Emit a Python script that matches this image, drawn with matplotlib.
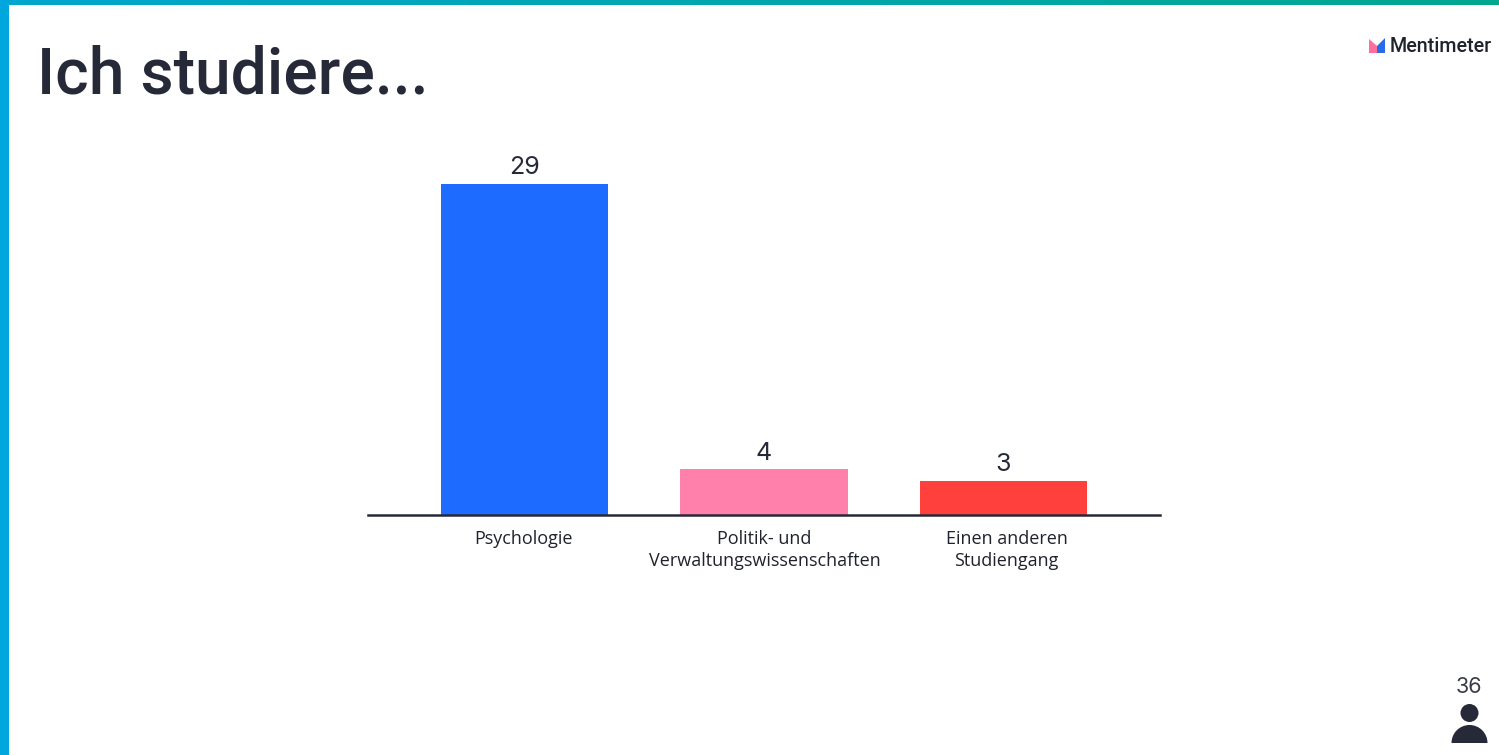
import numpy as np
import matplotlib
matplotlib.use("Agg")
import matplotlib.pyplot as plt
from matplotlib.patches import Circle, Polygon, Wedge
from matplotlib.transforms import ScaledTranslation
from matplotlib.colors import LinearSegmentedColormap

categories = ["Psychologie", "Politik- und\nVerwaltungswissenschaften", "Einen anderen\nStudiengang"]
values = [29, 4, 3]
colors = ["#1e6bff", "#ff80ab", "#ff403d"]
title = "Ich studiere..."
brand = "Mentimeter"
respondents = "36"

W, H = 1499, 755
DARK = "#262a38"
fig = plt.figure(figsize=(W / 100, H / 100), dpi=100, facecolor="white")

# overlay for frame, logo and person icon, in pixel coordinates
bg = fig.add_axes([0, 0, 1, 1])
bg.set_xlim(0, W)
bg.set_ylim(H, 0)
bg.axis("off")
cmap = LinearSegmentedColormap.from_list("band", ["#00a6cc", "#00a78f"])
bg.imshow(np.linspace(0, 1, 256).reshape(1, -1), cmap=cmap, extent=(0, W, 5, 0), aspect="auto")
bg.fill_between([0, 9], 0, H, color="#00a6dc", lw=0)
bg.set_xlim(0, W)
bg.set_ylim(H, 0)

# chart
ax = fig.add_axes([368 / W, 1 - 515 / H, (1160 - 368) / W, (515 - 150) / H])
ax.patch.set_alpha(0)
x = np.arange(len(values))
bars = ax.bar(x, values, width=0.7, color=colors)
ax.set_xlim(-0.653, 2.653)
ax.set_ylim(0, 32)
ax.bar_label(bars, labels=[str(v) for v in values], padding=3.5, fontsize=18,
             color=DARK, family="Inter")
ax.set_xticks(x, categories, fontsize=13, family="Open Sans", color="#20232e", linespacing=1.25)
ax.tick_params(axis="x", length=0, pad=11)
ax.set_yticks([])
for s in ["top", "left", "right"]:
    ax.spines[s].set_visible(False)
ax.spines["bottom"].set_color(DARK)
ax.spines["bottom"].set_linewidth(1.8)
for lab, dx in zip(ax.get_xticklabels(), [-1, 0.5, 3]):
    lab.set_transform(lab.get_transform() + ScaledTranslation(dx / 100, 0, fig.dpi_scale_trans))

# title and brand
bg.text(37, 93, title, fontsize=46.3, family="Roboto", color=DARK, weight="medium", va="baseline", ha="left")
bg.add_patch(Polygon([(1369, 53), (1369, 39), (1377, 46), (1377, 53)], color="#ff6f9c", lw=0))
bg.add_patch(Polygon([(1377, 46), (1385, 38), (1385, 53), (1377, 53)], color="#2a6be8", lw=0))
bg.text(1390, 52.5, brand, fontsize=14.2, family="Roboto", color="#20222c", weight="medium", va="baseline", ha="left")

# respondent count
bg.text(1469, 693, respondents, fontsize=15.5, family="Inter", color="#3a3d48", ha="center", va="baseline")
bg.add_patch(Circle((1469.5, 713), 9, color=DARK, lw=0))
bg.add_patch(Wedge((1469.5, 743), 18, 180, 360, color=DARK, lw=0))

fig.savefig("out.png", dpi=100, facecolor="white")
